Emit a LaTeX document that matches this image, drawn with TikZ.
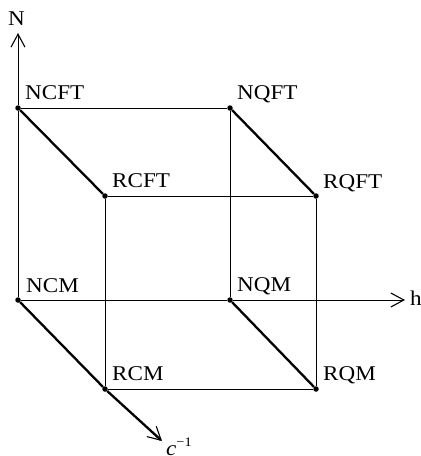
\documentclass[tikz,border=0pt]{standalone}
\usepackage{fontspec}
\setmainfont{Liberation Serif}[FakeStretch=1.1]
\usetikzlibrary{arrows.meta}

\begin{document}
\begin{tikzpicture}[x=1pt, y=-1pt,
  vertex/.style={circle, fill, inner sep=0pt, minimum size=5.5pt},
  edge/.style={line width=0.9pt},
  bold/.style={line width=2.3pt},
  axis/.style={-{Straight Barb[length=13pt,width=14pt,line width=1.1pt]}},
  lbl/.style={anchor=base west, inner sep=0pt, font=\fontsize{21}{21}\selectfont}
]
\useasboundingbox (0,0) rectangle (421,456);

% Cube corners
\node[vertex] (ncft) at (18,108) {};
\node[vertex] (nqft) at (230,108) {};
\node[vertex] (rcft) at (105,196) {};
\node[vertex] (rqft) at (316,196) {};
\node[vertex] (ncm) at (18,300) {};
\node[vertex] (nqm) at (230,300) {};
\node[vertex] (rcm) at (105,389) {};
\node[vertex] (rqm) at (316,389) {};

% Axis ends
\coordinate (ntip) at (18,33);
\coordinate (htip) at (405,300);
\coordinate (ctip) at (162,441);

% Thin edges
\draw[edge] (ncft) -- (nqft);
\draw[edge] (rcft) -- (rqft);
\draw[edge] (ncm) -- (ncft);
\draw[edge] (nqm) -- (nqft);
\draw[edge] (rcm) -- (rcft);
\draw[edge] (rqm) -- (rqft);
\draw[edge] (ncm) -- (nqm);
\draw[edge] (rcm) -- (rqm);

% Thick edges
\draw[bold] (ncft) -- (rcft);
\draw[bold] (nqft) -- (rqft);
\draw[bold] (nqm) -- (rqm);
\draw[bold] (ncm) -- (rcm);

% Axes
\draw[edge, axis] (ncft) -- (ntip);
\draw[edge, axis] (nqm) -- (htip);
\draw[bold, axis] (rcm) -- (ctip);

% Labels
\node[lbl] (ncftlbl) at ([shift={(7,-9)}]ncft) {NCFT};
\node[lbl] (nqftlbl) at ([shift={(7,-9)}]nqft) {NQFT};
\node[lbl] (rcftlbl) at ([shift={(7,-9)}]rcft) {RCFT};
\node[lbl] (rqftlbl) at ([shift={(7,-8)}]rqft) {RQFT};
\node[lbl] (ncmlbl) at ([shift={(8,-8)}]ncm) {NCM};
\node[lbl] (nqmlbl) at ([shift={(7,-9)}]nqm) {NQM};
\node[lbl] (rcmlbl) at ([shift={(7,-9)}]rcm) {RCM};
\node[lbl] (rqmlbl) at ([shift={(7,-9)}]rqm) {RQM};
\node[lbl, anchor=base] (nlbl) at ([shift={(-1.5,-8)}]ntip) {N};
\node[lbl] (hlbl) at ([shift={(5,5)}]htip) {h};
\node[lbl] (clbl) at ([shift={(4,14)}]ctip)
  {\textit{c}\raisebox{9pt}{\fontsize{13}{13}\selectfont −1}};
\end{tikzpicture}
\end{document}
